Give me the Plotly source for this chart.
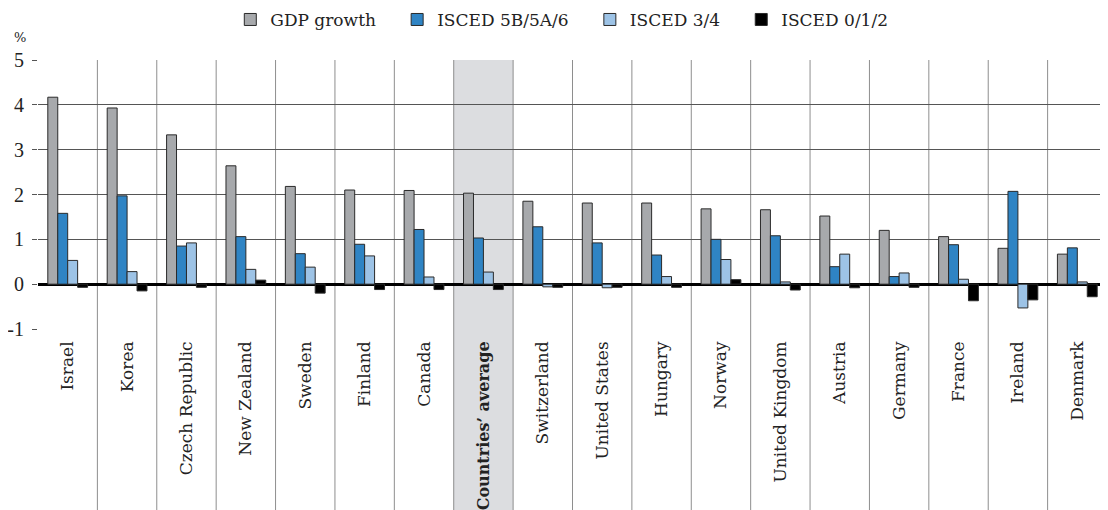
import plotly.graph_objects as go

countries = ["Israel", "Korea", "Czech Republic", "New Zealand", "Sweden", "Finland", "Canada",
             "Countries’ average", "Switzerland", "United States", "Hungary", "Norway",
             "United Kingdom", "Austria", "Germany", "France", "Ireland", "Denmark"]
gdp_growth = [4.17, 3.93, 3.33, 2.64, 2.18, 2.10, 2.09, 2.03, 1.85, 1.81, 1.81, 1.68, 1.66, 1.52, 1.20, 1.06, 0.80, 0.67]
isced_5b = [1.58, 1.97, 0.85, 1.06, 0.68, 0.89, 1.22, 1.03, 1.28, 0.92, 0.65, 1.00, 1.08, 0.39, 0.17, 0.88, 2.07, 0.81]
isced_34 = [0.53, 0.28, 0.92, 0.33, 0.38, 0.63, 0.16, 0.27, -0.06, -0.08, 0.17, 0.55, 0.05, 0.67, 0.25, 0.11, -0.53, 0.05]
isced_012 = [-0.07, -0.15, -0.07, 0.09, -0.20, -0.12, -0.12, -0.12, -0.07, -0.07, -0.07, 0.10, -0.13, -0.08, -0.07, -0.37, -0.35, -0.28]
series_names = ["GDP growth", "ISCED 5B/5A/6", "ISCED 3/4", "ISCED 0/1/2"]
y_ticks = [-1, 0, 1, 2, 3, 4, 5]

colors = ["#a7a9ac", "#2f84c4", "#9dc3e6", "#000000"]
font_serif = "DejaVu Serif"

x_idx = list(range(len(countries)))
fig = go.Figure()
n_series = len(series_names)
for k, (name, vals, col) in enumerate(zip(series_names, [gdp_growth, isced_5b, isced_34, isced_012], colors)):
    pad = "\u00a0\u00a0\u00a0" if k < n_series - 1 else ""
    fig.add_trace(go.Bar(
        x=x_idx, y=vals, name=name + pad,
        marker=dict(color=col, line=dict(color="#2a2a2a", width=1)),
    ))

tick_text = ['<span style="font-size:16px"><b>' + c + "</b></span>" if "average" in c else c
             for c in countries]

shapes = []
avg_i = 7
shapes.append(dict(type="rect", xref="x", yref="paper", x0=avg_i - 0.5, x1=avg_i + 0.5,
                   y0=-0.68, y1=1, fillcolor="#dcdde0", line=dict(width=0), layer="below"))
for i in range(len(countries) - 1):
    shapes.append(dict(type="line", xref="x", yref="paper", x0=i + 0.5, x1=i + 0.5,
                       y0=-0.68, y1=1, line=dict(color="#8e8e8e", width=1), layer="below"))

fig.update_layout(
    width=1100, height=502,
    margin=dict(l=30, r=1, t=52, b=181, autoexpand=False),
    plot_bgcolor="rgba(0,0,0,0)", paper_bgcolor="white",
    barmode="group", bargap=0.33, bargroupgap=0,
    font=dict(family=font_serif, color="#222222"),
    legend=dict(orientation="h", x=0.49, xanchor="center", y=1.149, yanchor="middle",
                font=dict(size=17, family=font_serif),
                itemwidth=30, traceorder="normal"),
    showlegend=True,
    shapes=shapes,
    annotations=[dict(text="%", xref="paper", yref="paper", x=-0.0168, y=1.082,
                      xanchor="center", yanchor="middle", showarrow=False,
                      font=dict(size=13, family=font_serif))],
)

fig.update_xaxes(
    range=[-0.5, len(countries) - 0.5], automargin=False,
    tickmode="array", tickvals=x_idx, ticktext=tick_text, tickangle=-90,
    tickfont=dict(size=17, family=font_serif, color="#222222"),
    showgrid=False, zeroline=False, showline=False, ticks="", ticklabelstandoff=8,
)
fig.update_yaxes(
    range=[-1, 5], automargin=False, tickmode="array", tickvals=y_ticks,
    ticktext=[str(v) for v in y_ticks],
    showgrid=True, gridcolor="#555555", gridwidth=1.3,
    zeroline=True, zerolinecolor="#000000", zerolinewidth=2.5,
    ticks="outside", ticklen=5, tickcolor="#555555", tickwidth=1.3,
    tickfont=dict(size=20, family="Liberation Serif", color="#222222"),
    showline=False, ticklabelstandoff=4,
)

fig.write_html("out.html")
